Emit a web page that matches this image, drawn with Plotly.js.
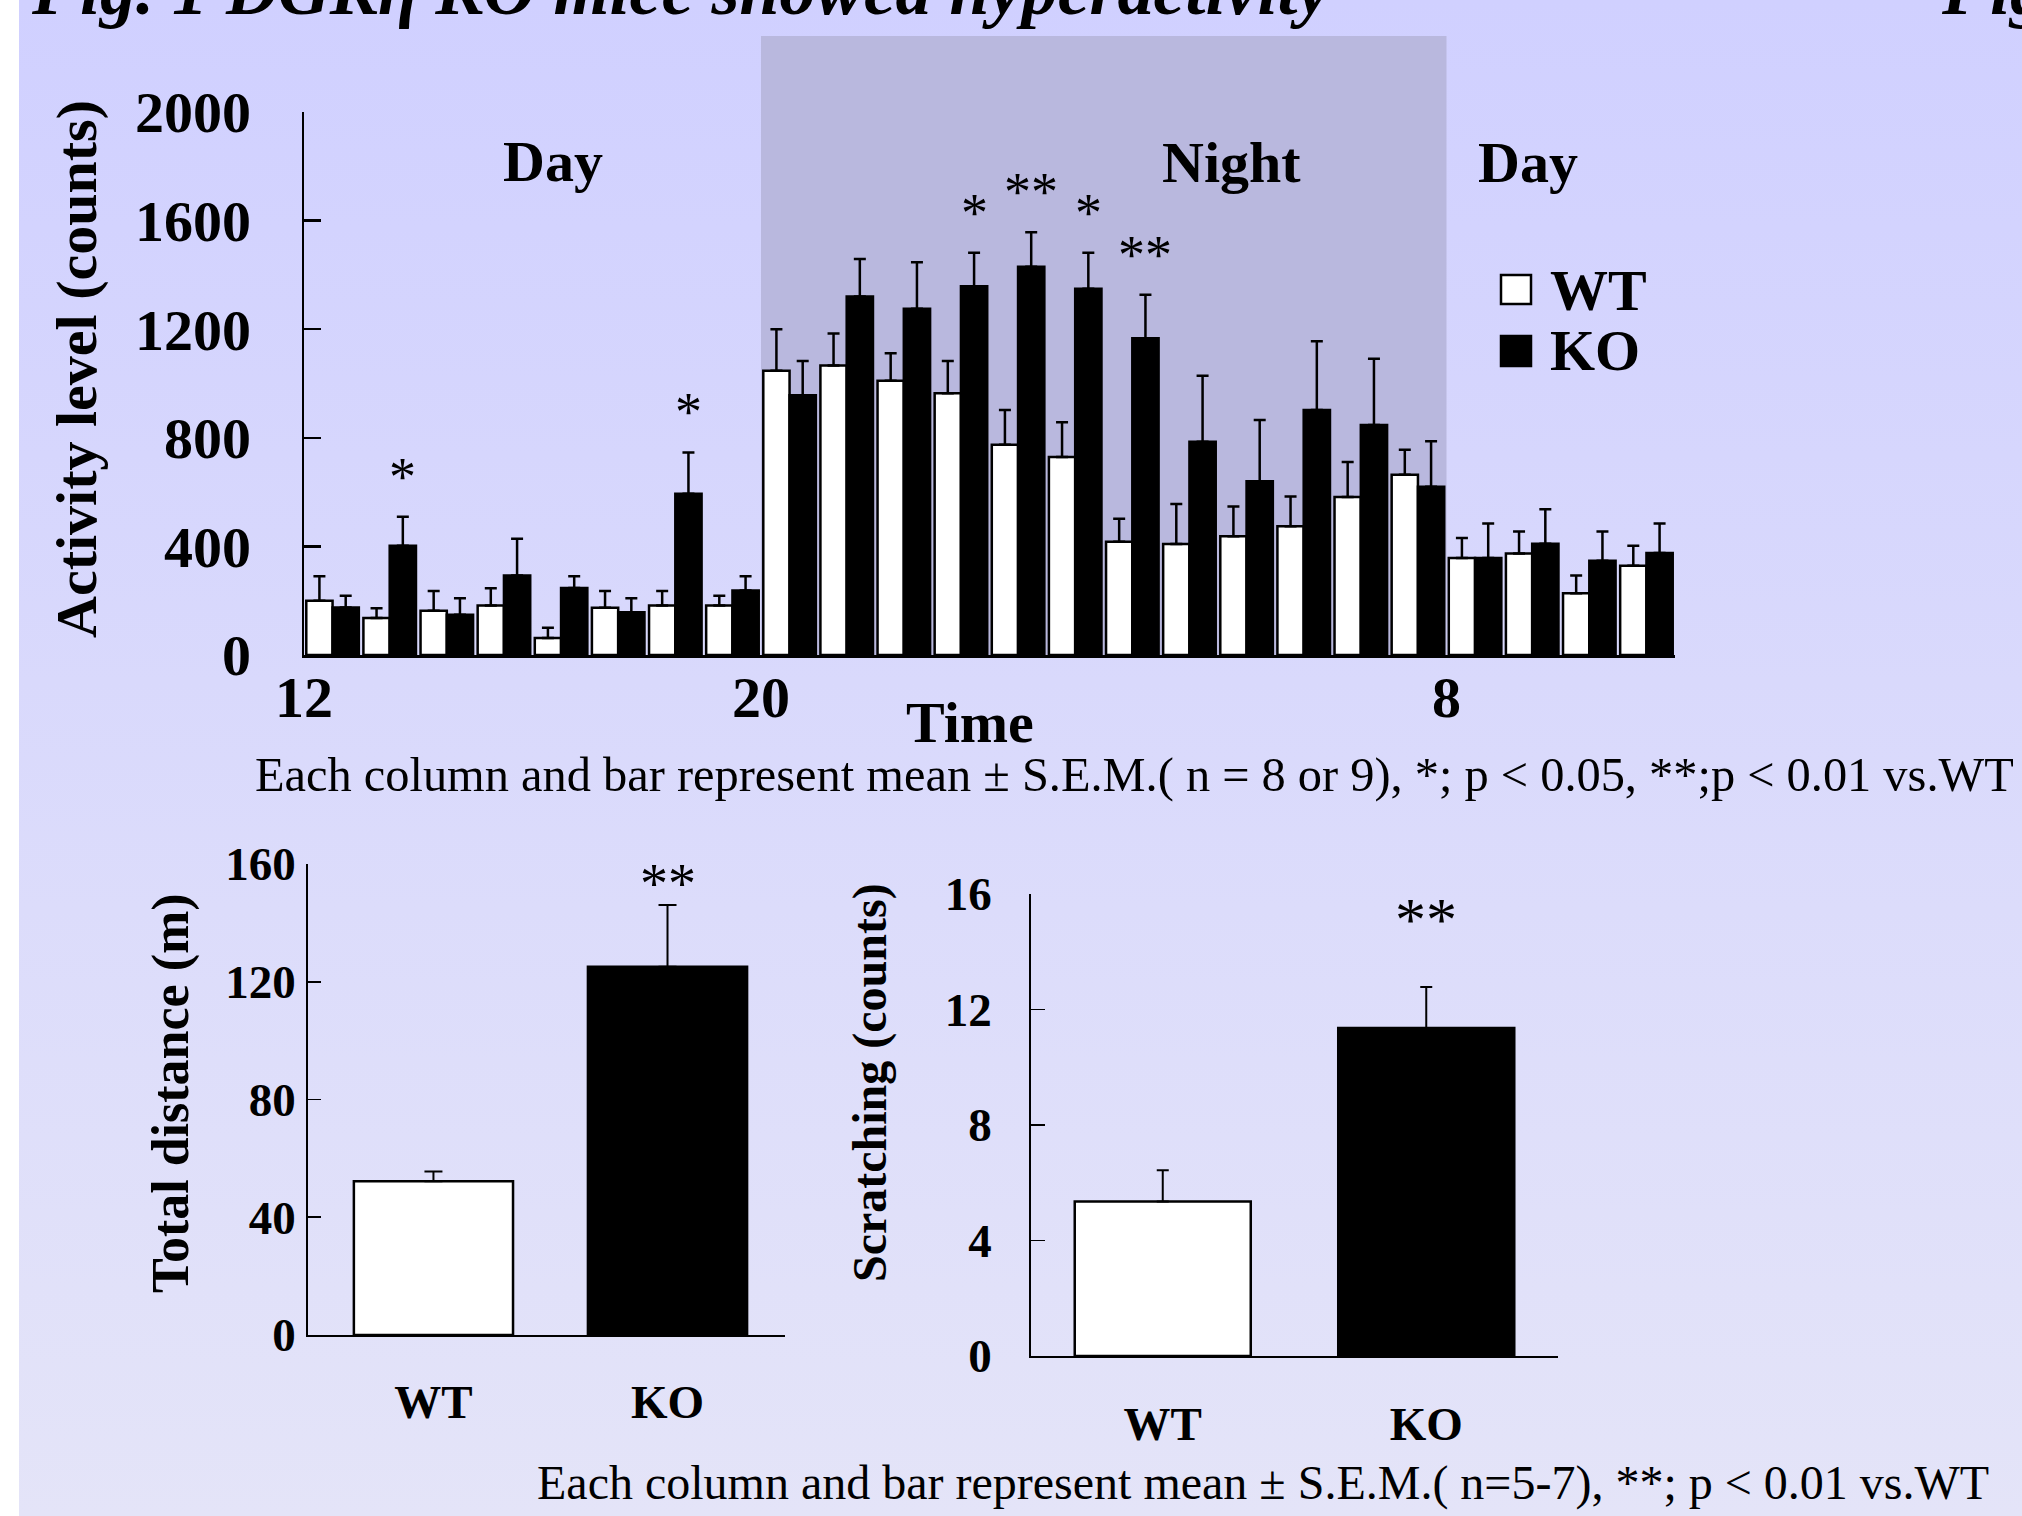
<!DOCTYPE html>
<html>
<head>
<meta charset="utf-8">
<script src="https://cdn.plot.ly/plotly-3.0.1.min.js"></script>
<style>
html,body{margin:0;padding:0;width:2022px;height:1516px;overflow:hidden;background:#ffffff;}
#chart{position:absolute;left:0;top:0;width:2022px;height:1516px;
background:linear-gradient(to right,#ffffff 0px,#ffffff 19px,rgba(0,0,0,0) 19px),linear-gradient(to bottom,#d0d0ff 0%,#dcdcfb 60%,#e4e4f8 100%);}
</style>
</head>
<body>
<div id="chart"></div>
<script>
// ---------- data ----------
const hours = ['12','13','14','15','16','17','18','19','20','21','22','23','0','1','2','3','4','5','6','7','8','9','10','11'];
const wtMean = [200,136,163,182,63,174,182,182,1047,1066,1010,964,774,729,417,409,437,474,582,664,357,374,227,329];
const wtSem  = [90,36,73,64,37,62,54,36,153,118,101,119,128,128,85,147,110,110,129,92,74,81,66,73];
const koMean = [175,402,148,293,247,157,594,238,957,1320,1275,1358,1430,1349,1167,785,640,902,847,620,357,410,347,376];
const koSem  = [43,107,61,135,43,52,152,52,126,139,172,124,127,133,160,244,226,254,244,167,127,127,108,108];
const koSig  = ['','*','','','','','*','','','','','*','**','*','**','','','','','','','','',''];
const tickHours = ['12','20','8'];
const nightFrom = '20', nightTo = '8';

const groups = ['WT','KO'];
const distMean = [52.2,125.1];
const distSem  = [3.3,21.0];
const distSig  = ['','**'];
const scratchMean = [5.35,11.36];
const scratchSem  = [1.08,1.42];
const scratchSig  = ['','**'];

// ---------- helpers ----------
const W = 2022, H = 1516;
const px = v => v / W;
const py = v => 1 - v / H;
const SERIF = 'Liberation Serif, Times New Roman, serif';
const BARGAP = 0.08;
const zeros = a => a.map(() => 0);
const idx = hours.map((h, i) => i + 0.5);

const traces = [
  {type:'bar', name:'WT', x:idx, y:wtMean, xaxis:'x', yaxis:'y',
   marker:{color:'#ffffff', line:{color:'#000000', width:2.5}},
   error_y:{type:'data', symmetric:false, array:wtSem, arrayminus:zeros(wtSem), color:'#000000', thickness:2.5, width:6},
   hoverinfo:'skip'},
  {type:'bar', name:'KO', x:idx, y:koMean, xaxis:'x', yaxis:'y',
   marker:{color:'#000000', line:{color:'#000000', width:2.5}},
   error_y:{type:'data', symmetric:false, array:koSem, arrayminus:zeros(koSem), color:'#000000', thickness:2.5, width:6},
   hoverinfo:'skip'},
  {type:'bar', x:groups, y:distMean, xaxis:'x2', yaxis:'y2', width:0.68,
   marker:{color:['#ffffff','#000000'], line:{color:'#000000', width:2.5}},
   error_y:{type:'data', symmetric:false, array:distSem, arrayminus:zeros(distSem), color:'#000000', thickness:2, width:9},
   hoverinfo:'skip'},
  {type:'bar', x:groups, y:scratchMean, xaxis:'x3', yaxis:'y3', width:0.668,
   marker:{color:['#ffffff','#000000'], line:{color:'#000000', width:2.5}},
   error_y:{type:'data', symmetric:false, array:scratchSem, arrayminus:zeros(scratchSem), color:'#000000', thickness:2, width:6},
   hoverinfo:'skip'}
];

const boldTick = s => ({family:SERIF, size:s, color:'#000000', weight:'bold'});

const layout = {
  width:W, height:H,
  margin:{l:0, r:0, t:0, b:0},
  paper_bgcolor:'rgba(0,0,0,0)', plot_bgcolor:'rgba(0,0,0,0)',
  font:{family:SERIF, color:'#000000'},
  showlegend:false,
  barmode:'group', bargap:BARGAP, bargroupgap:0,
  xaxis:{domain:[px(304), px(1675)], range:[0, hours.length], anchor:'y',
         showgrid:false, zeroline:false, showline:true, linecolor:'#000000', linewidth:2.5,
         tickmode:'array', tickvals:tickHours.map(h => hours.indexOf(h)), ticktext:tickHours,
         ticks:'', tickfont:boldTick(58), ticklabelstandoff:-10, fixedrange:true},
  yaxis:{domain:[py(655), py(112)], range:[0,2000], anchor:'x',
         showgrid:false, zeroline:false, showline:true, linecolor:'#000000', linewidth:2.5,
         tickvals:[0,400,800,1200,1600,2000], ticks:'inside', ticklen:17, tickwidth:2.5, tickcolor:'#000000',
         tickfont:boldTick(58), ticklabelstandoff:39, fixedrange:true},
  xaxis2:{domain:[px(308), px(785)], type:'category', range:[-0.536,1.502], anchor:'y2',
          showgrid:false, zeroline:false, showline:true, linecolor:'#000000', linewidth:1.8,
          ticks:'', tickfont:boldTick(47), ticklabelstandoff:25, fixedrange:true},
  yaxis2:{domain:[py(1335), py(864)], range:[0,160], anchor:'x2',
          showgrid:false, zeroline:false, showline:true, linecolor:'#000000', linewidth:1.8,
          tickvals:[0,40,80,120,160], ticks:'inside', ticklen:13, tickwidth:1.8, tickcolor:'#000000',
          tickfont:boldTick(47), ticklabelstandoff:1, fixedrange:true},
  xaxis3:{domain:[px(1031), px(1558)], type:'category', range:[-0.5,1.5], anchor:'y3',
          showgrid:false, zeroline:false, showline:true, linecolor:'#000000', linewidth:1.8,
          ticks:'', tickfont:boldTick(47), ticklabelstandoff:26, fixedrange:true},
  yaxis3:{domain:[py(1356), py(894)], range:[0,16], anchor:'x3',
          showgrid:false, zeroline:false, showline:true, linecolor:'#000000', linewidth:1.8,
          tickvals:[0,4,8,12,16], ticks:'inside', ticklen:14, tickwidth:1.8, tickcolor:'#000000',
          tickfont:boldTick(47), ticklabelstandoff:28, fixedrange:true},
  shapes:[
    {type:'rect', layer:'below', xref:'x', yref:'paper',
     x0:hours.indexOf(nightFrom), x1:hours.indexOf(nightTo), y0:py(655), y1:py(36),
     fillcolor:'#b9b8de', line:{width:0}},
    // legend swatches
    {type:'rect', xref:'paper', yref:'paper', x0:px(1501), x1:px(1531), y0:py(304), y1:py(275),
     fillcolor:'#ffffff', line:{color:'#000000', width:2.5}},
    {type:'rect', xref:'paper', yref:'paper', x0:px(1501), x1:px(1531), y0:py(366), y1:py(336),
     fillcolor:'#000000', line:{color:'#000000', width:2.5}}
  ],
  annotations:[]
};

const A = layout.annotations;
const txt = (text, x, y, size, opts) => Object.assign({
  text:text, xref:'paper', yref:'paper', x:px(x), y:py(y), showarrow:false,
  xanchor:'center', yanchor:'middle',
  font:{family:SERIF, size:size, color:'#000000', weight:'bold'}}, opts || {});

// slide title (cut off at top edge)
A.push(txt('Fig. 1 DGKη KO mice showed hyperactivity', 29, -10, 72,
  {xanchor:'left', font:{family:SERIF, size:72, color:'#000000', weight:'bold', style:'italic'}}));
A.push(txt('Fig', 1939, -10, 72,
  {xanchor:'left', font:{family:SERIF, size:72, color:'#000000', weight:'bold', style:'italic'}}));

// top chart labels
A.push(txt('Activity level (counts)', 77, 369, 58, {textangle:-90}));
A.push(txt('Day', 553, 161, 58));
A.push(txt('Night', 1231, 162, 58));
A.push(txt('Day', 1528, 162, 58));
A.push(txt('Time', 970, 722, 58));
A.push(txt('WT', 1548, 291, 58, {xanchor:'left'}));
A.push(txt('KO', 1548, 351, 58, {xanchor:'left'}));
A.push(txt('Each column and bar represent mean ± S.E.M.( n = 8 or 9), *; p &lt; 0.05, **;p &lt; 0.01 vs.WT',
  1134, 775, 48.4, {font:{family:SERIF, size:48.4, color:'#000000', weight:'normal'}}));

// significance marks above KO bars
const koOffset = (1 - BARGAP) / 4;
koSig.forEach((s, i) => {
  if (!s) return;
  A.push({text:s, xref:'x', yref:'y', x:idx[i] + koOffset, y:koMean[i] + koSem[i],
          yshift:40, showarrow:false, xanchor:'center', yanchor:'middle',
          font:{family:SERIF, size:54, color:'#000000'}});
});

// bottom charts
A.push(txt('Total distance (m)', 171, 1093, 52, {textangle:-90}));
A.push(txt('Scratching (counts)', 870, 1083, 48, {textangle:-90}));
distSig.forEach((s, i) => {
  if (!s) return;
  A.push({text:s, xref:'x2', yref:'y2', x:groups[i], y:distMean[i] + distSem[i],
          yshift:21, showarrow:false, xanchor:'center', yanchor:'middle',
          font:{family:SERIF, size:56, color:'#000000'}});
});
scratchSig.forEach((s, i) => {
  if (!s) return;
  A.push({text:s, xref:'x3', yref:'y3', x:groups[i], y:scratchMean[i] + scratchSem[i],
          yshift:68, showarrow:false, xanchor:'center', yanchor:'middle',
          font:{family:SERIF, size:62, color:'#000000'}});
});
A.push(txt('Each column and bar represent mean ± S.E.M.( n=5-7), **; p &lt; 0.01 vs.WT',
  1263, 1483, 48, {font:{family:SERIF, size:48, color:'#000000', weight:'normal'}}));

Plotly.newPlot('chart', traces, layout, {staticPlot:true, displayModeBar:false});
</script>
</body>
</html>
